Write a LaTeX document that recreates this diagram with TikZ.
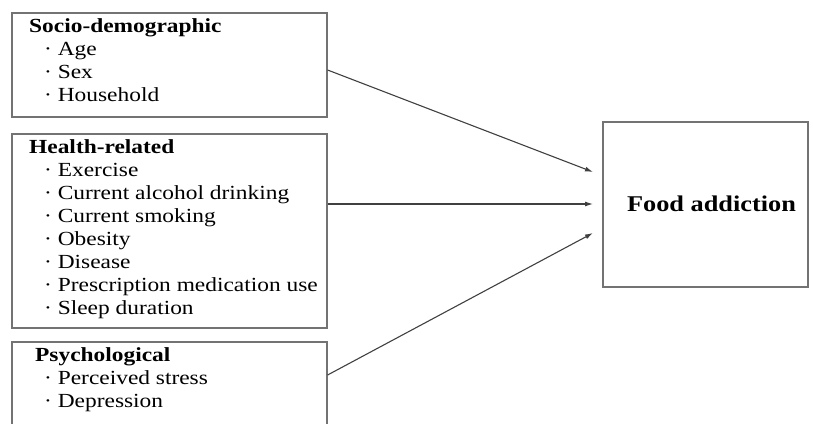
\documentclass[tikz,border=0pt]{standalone}
\usepackage{fontspec}
\setmainfont{Liberation Serif}
\newfontfamily\widefont[FakeStretch=1.17]{Liberation Serif}
\usetikzlibrary{arrows.meta}
\begin{document}
\begin{tikzpicture}[x=1pt,y=-1pt,
  box/.style={draw=black!55, line width=1.2pt, inner sep=0pt},
  lbl/.style={anchor=base west, inner sep=0pt, font=\widefont\fontsize{20}{23}\selectfont},
  hdr/.style={lbl, font=\widefont\fontsize{20}{23}\selectfont\bfseries},
  arr/.style={draw=black!75, line width=1.1pt, -{Latex[length=8pt,width=5pt]}}]
\useasboundingbox (0,0) rectangle (813,423);
\clip (0,0) rectangle (813,423);
% boxes
\node[box, minimum width=315pt, minimum height=104pt] (b1) at (169.5,65) {};
\node[box, minimum width=315pt, minimum height=194pt] (b2) at (169.5,231) {};
\node[box, minimum width=315pt, minimum height=120pt] (b3) at (169.5,402) {};
\node[box, minimum width=205pt, minimum height=165pt] (fa) at (705.5,204.5) {};
% texts
\node[hdr] (h1) at (29,32) {Socio-demographic};
\node[lbl] (a1) at (44,55) {· Age};
\node[lbl] (a2) at (44,78) {· Sex};
\node[lbl] (a3) at (44,101) {· Household};
\node[hdr] (h2) at (29,153) {Health-related};
\node[lbl] (c1) at (44,176) {· Exercise};
\node[lbl] (c2) at (44,199) {· Current alcohol drinking};
\node[lbl] (c3) at (44,222) {· Current smoking};
\node[lbl] (c4) at (44,245) {· Obesity};
\node[lbl] (c5) at (44,268) {· Disease};
\node[lbl] (c6) at (44,291) {· Prescription medication use};
\node[lbl] (c7) at (44,314) {· Sleep duration};
\node[hdr] (h3) at (35,361) {Psychological};
\node[lbl] (d1) at (44,384) {· Perceived stress};
\node[lbl] (d2) at (44,407) {· Depression};
\node[hdr, anchor=base, font=\widefont\fontsize{22.5}{26}\selectfont\bfseries] (ft) at (711.5,211) {Food addiction};
% connector points
\coordinate (s1) at (b1.east |- 0,70);
\coordinate (s2) at (b2.east |- 0,204);
\coordinate (s3) at (b3.east |- 0,375);
\coordinate (e1) at (593,172);
\coordinate (e2) at (593,204);
\coordinate (e3) at (593,233);
\draw[arr] (s1) -- (e1);
\draw[arr] (s2) -- (e2);
\draw[arr] (s3) -- (e3);
\end{tikzpicture}
\end{document}
